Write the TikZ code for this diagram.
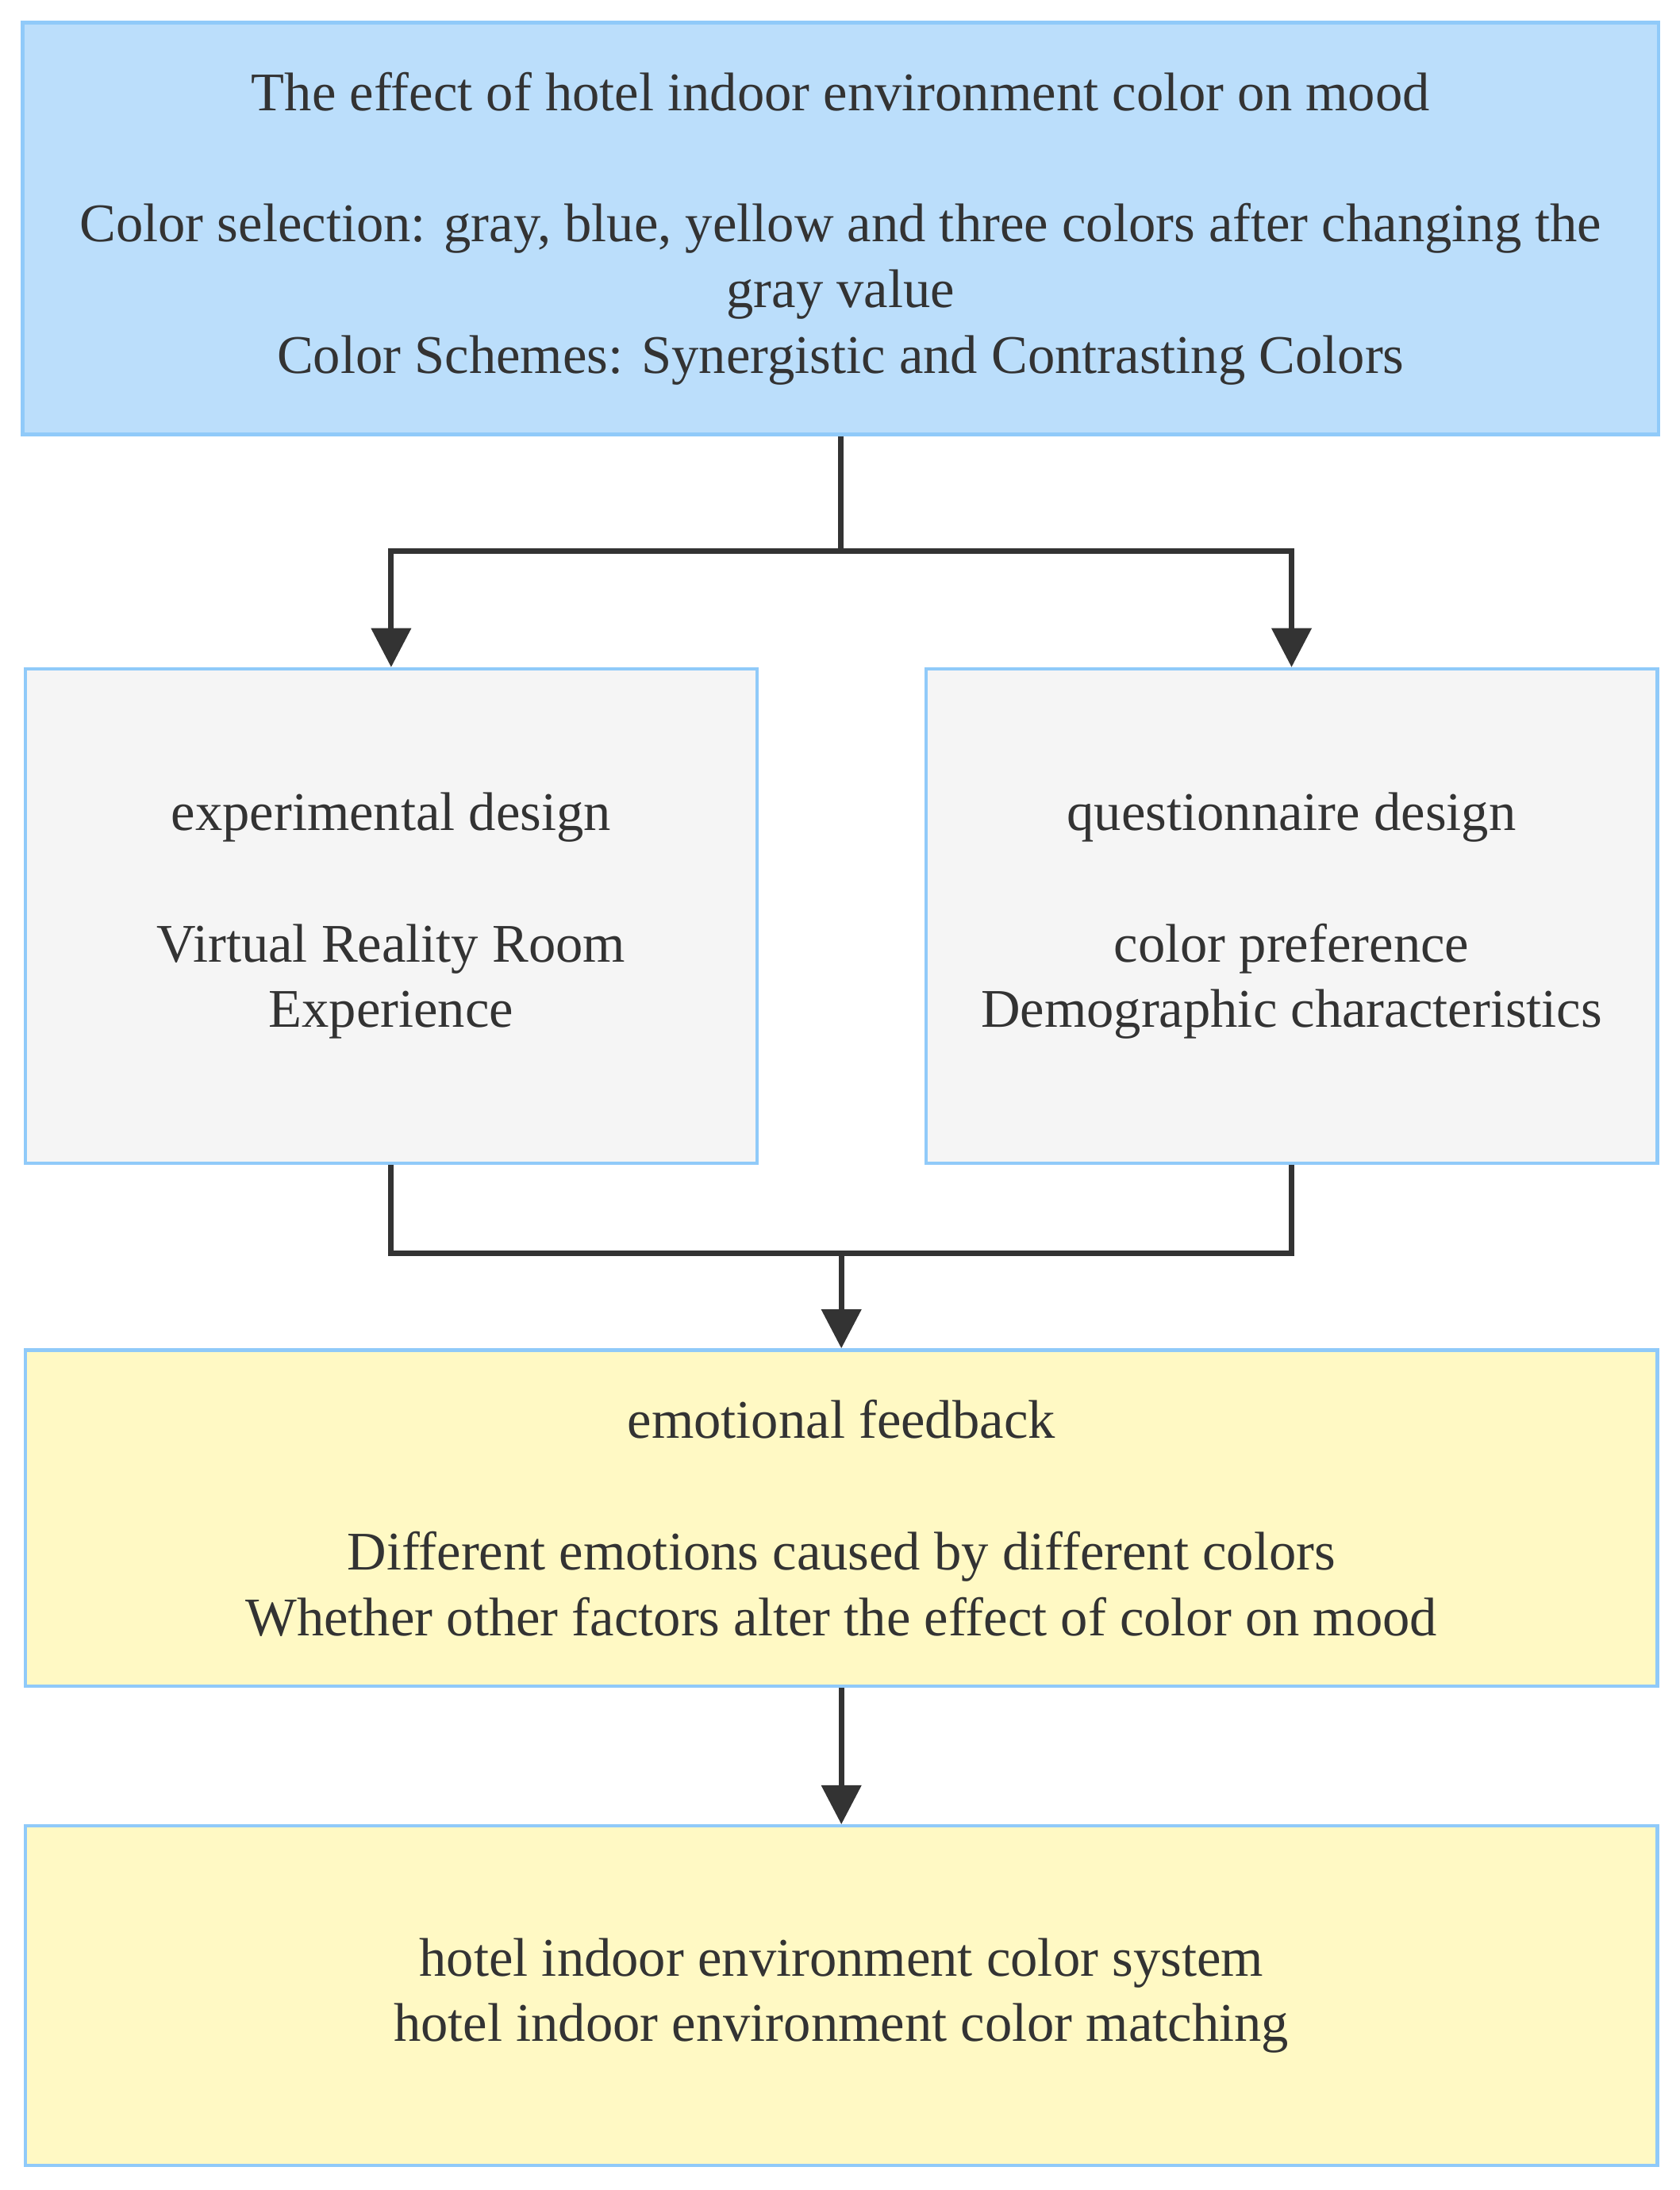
\documentclass[tikz,border=0pt]{standalone}
\usepackage{fontspec}
\setmainfont{Liberation Serif}
\usetikzlibrary{arrows.meta}
\begin{document}
\begin{tikzpicture}[x=0.5pt,y=-0.5pt,
  box/.style={draw=#1,line width=1.2pt,anchor=north west,inner sep=0pt,align=center,
    font=\fontsize{19.5}{23.5}\selectfont,text=black!80},
  arr/.style={draw=black!80,line width=2pt,-{Triangle[length=14pt,width=14pt]}},
  ln/.style={draw=black!80,line width=2pt}]
\useasboundingbox (0,0) rectangle (1203,1569);
\definecolor{bl}{HTML}{BBDEFB}\definecolor{bd}{HTML}{90CAF9}
\definecolor{gr}{HTML}{F5F5F5}\definecolor{ye}{HTML}{FFF9C4}
\node[box=bd,fill=bl,minimum width=586pt,minimum height=147.5pt] (top) at (15,15)
 {The effect of hotel indoor environment color on mood\\[23.5pt]Color selection: gray, blue, yellow and three colors after changing the\\gray value\\Color Schemes: Synergistic and Contrasting Colors};
\node[box=bd,fill=gr,minimum width=262pt,minimum height=177pt] (l) at (17,478)
 {experimental design\\[23.5pt]Virtual Reality Room\\Experience};
\node[box=bd,fill=gr,minimum width=262pt,minimum height=177pt] (r) at (662,478)
 {questionnaire design\\[23.5pt]color preference\\Demographic characteristics};
\node[box=bd,fill=ye,minimum width=584.5pt,minimum height=120.5pt] (e) at (17,966)
 {emotional feedback\\[23.5pt]Different emotions caused by different colors\\Whether other factors alter the effect of color on mood};
\node[box=bd,fill=ye,minimum width=584.5pt,minimum height=121.5pt] (h) at (17,1307)
 {hotel indoor environment color system\\hotel indoor environment color matching};
\coordinate (s) at (top.south |- 0,395);
\coordinate (m) at (e.north |- 0,898);
\draw[ln] (top.south) -- (s);
\draw[arr] (s) -| (l.north);
\draw[arr] (s) -| (r.north);
\draw[ln] (l.south) |- (m);
\draw[ln] (r.south) |- (m);
\draw[arr] (m) -- (e.north);
\draw[arr] (e.south) -- (h.north);
\end{tikzpicture}
\end{document}
